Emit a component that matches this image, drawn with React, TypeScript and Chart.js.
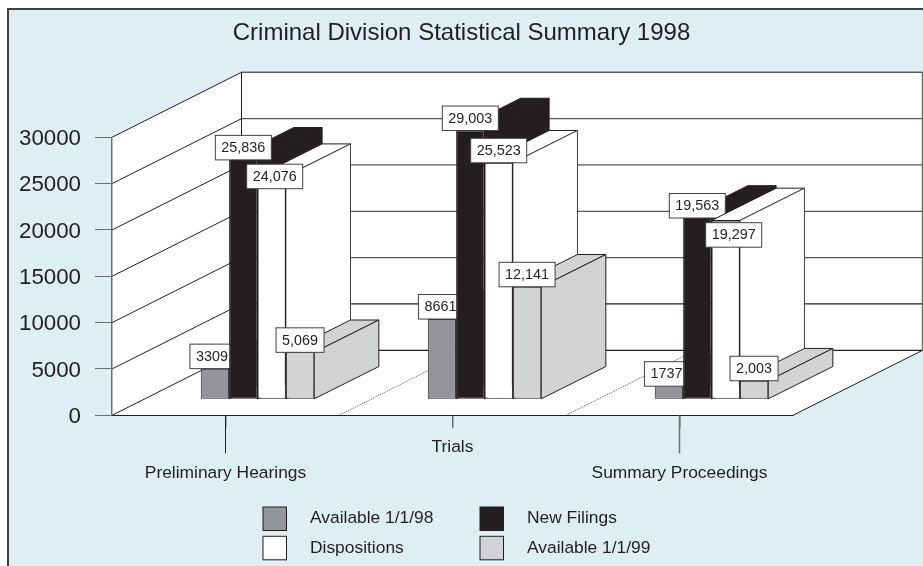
import { useEffect, useRef } from "react";
import { Chart, registerables } from "chart.js";

Chart.register(...registerables);

const categories = ["Preliminary Hearings", "Trials", "Summary Proceedings"];
const available98 = [3309, 8661, 1737];
const newFilings = [25836, 29003, 19563];
const dispositions = [24076, 25523, 19297];
const available99 = [5069, 12141, 2003];
const seriesNames = ["Available 1/1/98", "New Filings", "Dispositions", "Available 1/1/99"];
const yTicks = [0, 5000, 10000, 15000, 20000, 25000, 30000];
const titleText = "Criminal Division Statistical Summary 1998";

const FONT = '"Liberation Sans", Arial, sans-serif';
const INK = "#231F20";
const BG = "#DDEEF5";
const AXIS_GREY = "#6D6E71";
const seriesColors = ["#939598", "#231F20", "#FFFFFF", "#D1D3D4"];

// 3D projection parameters, in pixels
const WALL_DX = 129.5;
const WALL_DY = -65;
const BAR_SHIFT_X = 32;
const BAR_SHIFT_Y = -16;
const BAR_DX = 64.6;
const BAR_DY = -32.3;

// hand-placed value boxes of the original: "series:category" -> [dx, dy]
const labelNudges: Record<string, [number, number]> = {
  "0:0": [-3, 0],
  "0:1": [-1.5, 0],
  "0:2": [-2.5, 3],
  "2:0": [3, 12.5],
  "2:2": [8, 26.7],
};

const line = (ctx: CanvasRenderingContext2D, pts: number[][], color: string, w = 1) => {
  ctx.beginPath();
  pts.forEach((p, i) => (i ? ctx.lineTo(p[0], p[1]) : ctx.moveTo(p[0], p[1])));
  ctx.strokeStyle = color;
  ctx.lineWidth = w;
  ctx.stroke();
};

const poly = (ctx: CanvasRenderingContext2D, pts: number[][], fill: string, stroke?: string, w = 1) => {
  ctx.beginPath();
  pts.forEach((p, i) => (i ? ctx.lineTo(p[0], p[1]) : ctx.moveTo(p[0], p[1])));
  ctx.closePath();
  ctx.fillStyle = fill;
  ctx.fill();
  if (stroke) {
    ctx.strokeStyle = stroke;
    ctx.lineWidth = w;
    ctx.stroke();
  }
};

const scene3d = {
  id: "scene3d",
  beforeDraw(chart: any) {
    const { ctx, width, height, chartArea: a, scales } = chart;
    const { left: l, right: r, top: t, bottom: b } = a;
    ctx.save();
    // panel
    ctx.fillStyle = "#FFFFFF";
    ctx.fillRect(0, 0, width, height);
    ctx.fillStyle = BG;
    ctx.fillRect(8, 9, width - 8, height - 9);
    line(ctx, [[8, height], [8, 9], [width, 9]], "#414042", 2);

    // walls and floor
    const dx = WALL_DX;
    const dy = WALL_DY;
    poly(ctx, [[l + dx, t + dy], [r + dx, t + dy], [r + dx, b + dy], [l + dx, b + dy]], "#FFFFFF");
    poly(ctx, [[l, t], [l + dx, t + dy], [l + dx, b + dy], [l, b]], "#FFFFFF");
    poly(ctx, [[l, b], [r, b], [r + dx, b + dy], [l + dx, b + dy]], "#FFFFFF");

    // gridlines wrapping left and back walls
    scales.y.ticks.forEach((tick: any) => {
      const y = scales.y.getPixelForValue(tick.value);
      const c = tick.value === 0 || tick.value === 5000 ? "#231F20" : "#58595B";
      line(ctx, [[l, y], [l + dx, y + dy]], "#231F20", 1);
      line(ctx, [[l + dx, y + dy], [r + dx, y + dy]], c, 1.2);
    });
    line(ctx, [[l + dx, t + dy], [l + dx, b + dy]], "#231F20", 1);
    line(ctx, [[l + dx, t + dy], [r + dx, t + dy]], "#58595B", 1.2);
    line(ctx, [[r + dx, t + dy], [r + dx, b + dy]], AXIS_GREY, 1.5);
    line(ctx, [[r, b], [r + dx, b + dy]], "#231F20", 1);

    // dotted floor dividers between the categories
    const band = (r - l) / categories.length;
    ctx.setLineDash([1, 1]);
    for (let i = 1; i < categories.length; i++) {
      const x = l + band * i;
      line(ctx, [[x, b], [x + dx, b + dy]], "#58595B", 1);
    }
    ctx.setLineDash([]);
    ctx.restore();
  },
  beforeDatasetsDraw(chart: any) {
    const { ctx } = chart;
    // painter's order: left to right, so each bar covers its left neighbour's side
    chart.data.datasets.forEach((ds: any, di: number) => {
      const meta = chart.getDatasetMeta(di);
      ctx.save();
      meta.data.forEach((bar: any) => {
        const half = bar.width / 2;
        const x0 = bar.x - half + BAR_SHIFT_X;
        const x1 = bar.x + half + BAR_SHIFT_X;
        const top = bar.y + BAR_SHIFT_Y;
        const base = bar.base + BAR_SHIFT_Y;
        const edge = "#231F20";
        const side = di === 3 ? "#231F20" : di === 1 ? "#231F20" : "#414042";
        poly(ctx, [[x0, top], [x1, top], [x1 + BAR_DX, top + BAR_DY], [x0 + BAR_DX, top + BAR_DY]], ds.backgroundColor, edge, 1);
        poly(ctx, [[x1, top], [x1 + BAR_DX, top + BAR_DY], [x1 + BAR_DX, base + BAR_DY], [x1, base]], ds.backgroundColor, side, 1);
      });
      ctx.translate(BAR_SHIFT_X, BAR_SHIFT_Y);
      meta.controller.draw();
      ctx.restore();

      // value boxes belong to the same layer as their series
      ctx.save();
      ctx.font = `14.4px ${FONT}`;
      ctx.textAlign = "center";
      ctx.textBaseline = "middle";
      meta.data.forEach((bar: any, ci: number) => {
        const v = ds.data[ci];
        const text = di === 0 ? String(v) : v.toLocaleString("en-US");
        const [nx, ny] = labelNudges[`${di}:${ci}`] || [0, 0];
        const w = ctx.measureText(text).width + 12;
        const h = 24.5;
        const cx = bar.x + BAR_SHIFT_X + nx;
        const cy = bar.y + BAR_SHIFT_Y - h / 2 + ny;
        ctx.fillStyle = "#FFFFFF";
        ctx.strokeStyle = "#414042";
        ctx.lineWidth = 1;
        ctx.fillRect(cx - w / 2, cy - h / 2, w, h);
        ctx.strokeRect(cx - w / 2, cy - h / 2, w, h);
        ctx.fillStyle = INK;
        ctx.fillText(text, cx, cy + 0.5);
      });
      ctx.restore();
    });
    return false;
  },
  afterDraw(chart: any) {
    const { ctx, scales } = chart;
    const { bottom: b } = chart.chartArea;
    ctx.save();
    // longer ticks for the lower row of category labels
    scales.x.ticks.forEach((_t: any, i: number) => {
      if (i % 2 === 0) {
        const x = scales.x.getPixelForTick(i);
        line(ctx, [[x, b], [x, b + 38]], i === 0 ? "#231F20" : AXIS_GREY, i === 0 ? 1 : 1.5);
      }
    });
    // two-column legend
    const cols = [263, 480];
    const rows = [507, 536.3];
    ctx.font = `17.4px ${FONT}`;
    ctx.textBaseline = "middle";
    ctx.textAlign = "left";
    chart.data.datasets.forEach((ds: any, i: number) => {
      const order = [[0, 0], [1, 0], [0, 1], [1, 1]][i];
      const x = cols[order[0]];
      const y = rows[order[1]];
      ctx.fillStyle = ds.backgroundColor;
      ctx.fillRect(x, y, 23.5, 23.5);
      ctx.strokeStyle = "#231F20";
      ctx.lineWidth = 1;
      ctx.strokeRect(x, y, 23.5, 23.5);
      ctx.fillStyle = INK;
      ctx.fillText(ds.label, x + 47, y + 11.5);
    });
    ctx.restore();
  },
};

export default function App() {
  const ref = useRef<HTMLCanvasElement>(null);
  useEffect(() => {
    if (!ref.current) return;
    const values = [available98, newFilings, dispositions, available99];
    const chart = new Chart(ref.current, {
      type: "bar",
      data: {
        labels: categories,
        datasets: values.map((data, i) => ({
          label: seriesNames[i],
          data,
          backgroundColor: seriesColors[i],
          borderColor: "#231F20",
          borderWidth: 1,
          borderSkipped: false,
          categoryPercentage: 0.5,
          barPercentage: 1,
          clip: false,
        })),
      },
      options: {
        responsive: false,
        animation: false,
        layout: { autoPadding: false, padding: 0 },
        plugins: {
          legend: { display: false },
          tooltip: { enabled: false },
          title: {
            display: true,
            text: titleText,
            color: INK,
            font: { family: FONT, size: 24, weight: "normal", lineHeight: 1.2 },
            padding: { top: 19, bottom: 89.5 },
          },
        },
        scales: {
          x: {
            type: "category",
            afterFit: (s: any) => { s.height = 150.7; },
            grid: { offset: false, drawOnChartArea: false, drawTicks: true, tickLength: 13, color: AXIS_GREY, lineWidth: 1.5 },
            border: { color: "#231F20", width: 1 },
            ticks: {
              autoSkip: false,
              maxRotation: 0,
              minRotation: 0,
              padding: 6,
              color: INK,
              font: { family: FONT, size: 17.4, lineHeight: 26 / 17.4 },
              callback: (_v: any, i: number) => (i % 2 === 0 ? ["", categories[i]] : categories[i]),
            },
          },
          y: {
            type: "linear",
            min: 0,
            max: 30000,
            afterFit: (s: any) => { s.width = 112; },
            afterBuildTicks: (s: any) => { s.ticks = yTicks.map((value) => ({ value })); },
            grid: { drawOnChartArea: false, drawTicks: true, tickLength: 17, color: AXIS_GREY, lineWidth: 1 },
            border: { color: AXIS_GREY, width: 1.5 },
            ticks: {
              padding: 14,
              color: INK,
              font: { family: FONT, size: 22.3, lineHeight: 3 / 22.3 },
              // the empty first line nudges the digits down to the original's baseline
              callback: (v: any) => ["", String(v)],
            },
          },
          spacer: {
            type: "linear",
            position: "right",
            afterFit: (s: any) => { s.width = 130; },
            grid: { display: false },
            border: { display: false },
            ticks: { display: false },
          },
        },
      } as any,
      plugins: [scene3d as any],
    });
    return () => chart.destroy();
  }, []);
  return (
    <canvas
      ref={ref}
      width={923}
      height={566}
      style={{ position: "fixed", left: 0, top: 0, display: "block" }}
    />
  );
}
